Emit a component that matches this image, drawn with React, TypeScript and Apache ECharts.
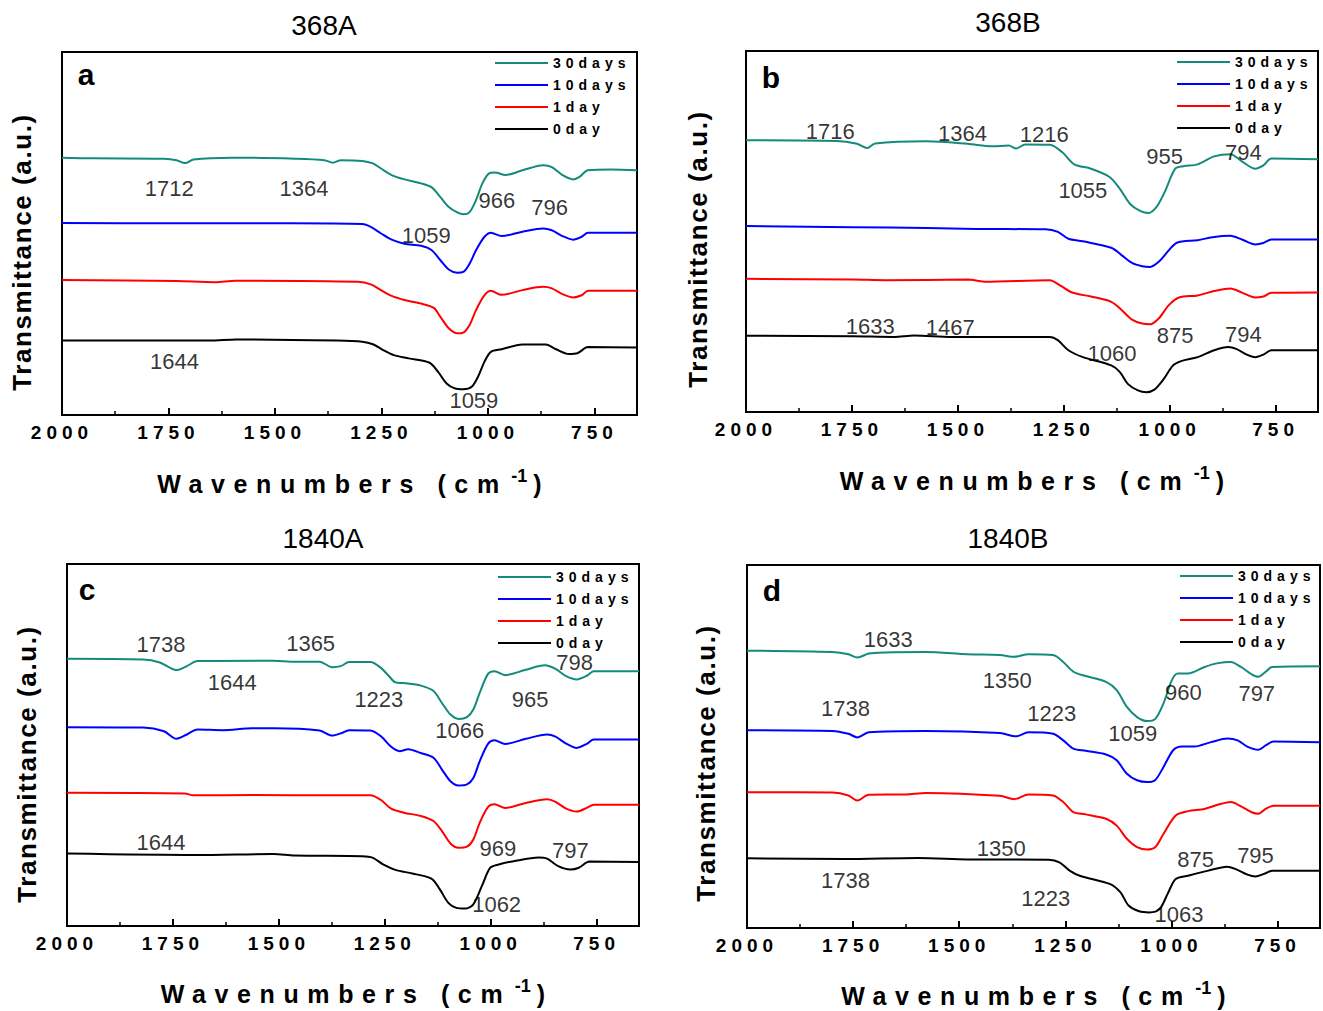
import React, { useEffect, useRef } from 'react';
import * as echarts from 'echarts';

// ---------- data ----------
const SERIES_NAMES = ['30days', '10days', '1day', '0day'];
const SERIES_COLORS = ['#138a7c', '#0000ff', '#ff0000', '#000000'];
const MAJOR_TICKS = [2000, 1750, 1500, 1250, 1000, 750];
const MINOR_TICKS = [1875, 1625, 1375, 1125, 875];
const PANEL_TITLES = ['368A', '368B', '1840A', '1840B'];
const PANEL_LETTERS = ['a', 'b', 'c', 'd'];
const X_NAME = 'Wavenumbers (cm';
const X_NAME_SUP = '-1';
const Y_NAME = 'Transmittance (a.u.)';

// 368A
const a30 = [[2000,70.9],[1929,70.7],[1760,70.6],[1731,70.2],[1711,69.4],[1691,70.4],[1602,70.9],[1454,70.6],[1384,70.2],[1364,69.5],[1345,70.2],[1295,70.0],[1270,69.3],[1251,67.9],[1226,66.1],[1196,64.9],[1157,63.8],[1132,62.7],[1112,60.1],[1092,57.3],[1072,55.8],[1058,55.3],[1043,55.9],[1028,59.2],[1013,63.8],[998,66.5],[983,66.8],[959,66.1],[919,67.4],[870,68.8],[850,68.3],[825,66.1],[800,64.9],[785,65.6],[765,67.4],[711,67.6],[650,67.4]];
const a10 = [[2000,52.9],[1751,52.8],[1464,52.8],[1295,52.6],[1275,51.8],[1251,50.0],[1226,48.3],[1196,47.2],[1157,46.6],[1132,45.4],[1112,42.7],[1092,40.1],[1072,39.2],[1058,39.4],[1043,41.7],[1028,45.4],[1008,49.1],[993,50.2],[968,49.3],[919,50.5],[870,51.4],[850,50.9],[825,49.3],[800,48.3],[780,49.1],[765,50.2],[650,50.2]];
const a1 = [[2000,37.2],[1731,36.9],[1642,36.6],[1592,37.0],[1305,36.7],[1275,36.0],[1251,34.4],[1226,32.8],[1196,31.7],[1157,30.7],[1127,29.5],[1112,27.1],[1092,23.9],[1072,22.5],[1058,22.7],[1043,24.8],[1028,28.9],[1008,33.0],[993,34.2],[968,33.1],[919,34.4],[870,35.3],[850,34.9],[825,33.3],[800,32.4],[780,33.0],[765,34.2],[650,34.2]];
const a0 = [[2000,20.5],[1652,20.5],[1592,20.8],[1355,20.5],[1295,20.2],[1270,19.5],[1246,17.9],[1221,16.5],[1186,15.6],[1137,14.4],[1117,11.9],[1097,8.7],[1077,7.3],[1058,7.1],[1038,7.8],[1023,10.6],[1008,14.7],[993,17.4],[968,18.1],[919,19.4],[864,19.4],[840,18.1],[810,16.8],[790,17.0],[765,18.7],[650,18.6]];
const annA = [
  { t: '1712', x: 1748, y: 62.4 }, { t: '1364', x: 1432, y: 62.4 }, { t: '966', x: 979, y: 59.2 },
  { t: '796', x: 855, y: 57.3 }, { t: '1059', x: 1145, y: 49.4 }, { t: '1644', x: 1736, y: 14.7 },
  { t: '1059', x: 1033, y: 4.1 },
];

// 368B
const b30 = [[2000,75.3],[1787,75.1],[1738,74.3],[1714,73.1],[1695,74.4],[1574,75.0],[1477,74.3],[1419,73.6],[1380,73.8],[1362,73.0],[1341,74.1],[1283,74.0],[1254,72.0],[1225,68.6],[1186,67.4],[1142,65.1],[1118,61.9],[1094,57.7],[1070,55.7],[1050,55.1],[1031,56.8],[1012,60.9],[987,67.4],[968,68.1],[934,68.6],[895,70.8],[857,71.4],[828,69.3],[798,67.4],[779,68.3],[760,70.2],[650,70.0]];
const b10 = [[2000,51.5],[1748,51.2],[1574,51.0],[1457,50.7],[1293,50.6],[1264,49.9],[1239,48.0],[1205,47.3],[1138,45.5],[1113,43.4],[1089,41.3],[1065,40.4],[1046,40.2],[1026,41.6],[1002,44.8],[983,46.9],[934,47.6],[895,48.5],[857,48.8],[828,47.7],[798,46.4],[779,46.8],[760,47.8],[650,47.8]];
const b1 = [[2000,36.9],[1748,36.7],[1671,36.5],[1477,36.7],[1438,36.1],[1283,36.5],[1259,35.1],[1230,33.1],[1186,32.0],[1138,30.5],[1113,28.2],[1089,25.6],[1065,24.5],[1046,24.3],[1026,25.9],[1002,29.6],[978,31.7],[934,32.3],[895,33.5],[857,34.2],[828,33.0],[798,31.7],[779,32.0],[760,33.0],[650,33.1]];
const b0 = [[2000,21.1],[1748,21.0],[1651,20.8],[1603,21.2],[1515,20.8],[1283,20.8],[1264,19.9],[1239,17.1],[1205,15.2],[1138,12.9],[1118,11.1],[1099,7.8],[1075,6.0],[1055,5.5],[1036,6.2],[1016,8.8],[992,12.9],[973,14.1],[934,15.2],[895,17.1],[862,18.0],[843,17.5],[818,15.9],[798,15.2],[779,15.9],[760,17.1],[650,17.1]];
const annB = [
  { t: '1716', x: 1801, y: 77.6 }, { t: '1364', x: 1489, y: 77.1 }, { t: '1216', x: 1296, y: 76.8 },
  { t: '955', x: 1012, y: 70.8 }, { t: '794', x: 826, y: 72.0 }, { t: '1055', x: 1205, y: 61.4 },
  { t: '1633', x: 1707, y: 23.8 }, { t: '1467', x: 1518, y: 23.5 }, { t: '875', x: 987, y: 21.2 },
  { t: '794', x: 826, y: 21.5 }, { t: '1060', x: 1136, y: 16.2 },
];

// 1840A
const c30 = [[2000,73.8],[1821,73.6],[1781,72.8],[1742,70.7],[1717,71.8],[1692,73.2],[1513,73.3],[1463,73.0],[1404,73.0],[1374,71.5],[1354,71.8],[1334,72.9],[1284,72.9],[1259,71.3],[1240,69.0],[1225,67.3],[1205,67.1],[1165,66.4],[1135,64.9],[1115,61.6],[1095,58.4],[1076,57.2],[1056,57.7],[1041,59.8],[1026,64.4],[1006,69.7],[991,70.4],[966,69.3],[917,70.8],[872,72.0],[847,71.0],[822,69.0],[797,68.1],[772,69.2],[757,70.4],[650,70.4]];
const c10 = [[2000,54.9],[1821,54.8],[1771,53.8],[1742,51.7],[1717,52.9],[1692,54.3],[1632,54.1],[1563,54.6],[1513,54.6],[1404,54.0],[1374,52.6],[1354,53.2],[1334,54.1],[1284,54.0],[1259,52.4],[1235,49.5],[1215,48.3],[1195,48.8],[1165,47.8],[1135,46.5],[1115,43.2],[1095,40.0],[1076,38.8],[1056,39.1],[1041,40.9],[1026,45.5],[1006,50.4],[991,51.3],[966,50.3],[917,51.7],[867,52.9],[847,52.3],[822,50.4],[797,49.2],[772,50.4],[757,51.5],[650,51.5]];
const c1 = [[2000,36.8],[1722,36.6],[1702,36.1],[1563,36.2],[1374,36.1],[1284,36.1],[1259,34.8],[1235,32.4],[1205,31.3],[1165,30.4],[1135,29.0],[1115,26.2],[1095,22.8],[1076,21.6],[1056,21.9],[1041,23.9],[1026,28.5],[1006,32.9],[991,33.6],[966,32.6],[917,34.0],[867,35.0],[847,34.3],[822,32.4],[797,31.6],[772,32.7],[757,33.5],[650,33.5]];
const c0 = [[2000,20.0],[1692,19.6],[1513,19.9],[1463,19.5],[1304,19.3],[1279,18.9],[1254,17.0],[1225,15.5],[1185,14.5],[1140,13.1],[1120,10.1],[1100,6.4],[1081,5.0],[1061,4.8],[1041,6.0],[1021,11.0],[1001,16.1],[981,17.0],[946,17.9],[887,18.9],[867,18.6],[842,16.6],[812,15.6],[792,16.1],[767,17.8],[650,17.7]];
const annC = [
  { t: '1738', x: 1778, y: 77.7 }, { t: '1365', x: 1425, y: 78.0 }, { t: '798', x: 802, y: 72.8 },
  { t: '1644', x: 1610, y: 67.4 }, { t: '1223', x: 1264, y: 62.6 }, { t: '965', x: 907, y: 62.6 },
  { t: '1066', x: 1073, y: 54.0 }, { t: '1644', x: 1778, y: 23.2 }, { t: '969', x: 983, y: 21.4 },
  { t: '797', x: 812, y: 20.9 }, { t: '1062', x: 986, y: 6.0 },
];

// 1840B
const d30 = [[2000,76.4],[1799,76.0],[1761,75.4],[1740,74.5],[1713,75.6],[1674,75.9],[1578,76.0],[1481,75.4],[1404,75.2],[1370,74.7],[1337,75.4],[1279,75.2],[1255,73.3],[1231,70.6],[1202,69.4],[1154,67.8],[1129,65.5],[1105,60.9],[1081,58.1],[1057,57.0],[1038,57.6],[1019,61.8],[999,68.3],[985,70.1],[961,70.1],[922,71.9],[893,72.9],[860,73.3],[836,71.9],[811,69.9],[795,69.2],[778,70.6],[763,71.9],[650,72.1]];
const d10 = [[2000,54.5],[1799,54.3],[1761,53.5],[1740,52.5],[1713,53.9],[1578,54.3],[1404,53.7],[1366,52.8],[1337,53.9],[1279,53.5],[1255,51.7],[1231,49.4],[1202,48.8],[1154,47.8],[1129,46.2],[1105,42.5],[1081,40.7],[1057,40.2],[1038,40.8],[1019,44.3],[995,49.1],[975,50.0],[946,50.0],[907,51.2],[868,52.2],[844,51.7],[820,49.9],[795,49.1],[778,50.3],[759,51.4],[650,51.2]];
const d1 = [[2000,37.4],[1799,37.3],[1761,36.5],[1740,35.1],[1713,36.7],[1626,36.8],[1578,37.2],[1404,36.4],[1370,35.5],[1337,36.8],[1279,36.5],[1255,34.7],[1231,31.9],[1202,31.3],[1154,30.1],[1129,28.2],[1105,24.6],[1081,22.3],[1057,21.6],[1038,22.3],[1019,25.9],[990,31.0],[961,32.2],[922,32.8],[889,34.0],[860,34.7],[836,33.5],[811,31.9],[795,31.5],[778,32.8],[759,33.7],[650,33.7]];
const d0 = [[2000,19.2],[1771,19.0],[1597,19.3],[1481,18.9],[1289,18.8],[1264,18.1],[1240,15.8],[1216,14.4],[1144,12.1],[1120,9.8],[1101,6.2],[1076,4.6],[1052,4.3],[1028,5.2],[1009,9.4],[990,13.5],[961,14.4],[913,15.8],[869,16.9],[850,16.3],[821,14.7],[802,14.2],[782,14.9],[763,15.8],[650,15.8]];
const annD = [
  { t: '1633', x: 1667, y: 79.5 }, { t: '1350', x: 1387, y: 68.3 }, { t: '1738', x: 1768, y: 60.4 },
  { t: '1223', x: 1282, y: 59.2 }, { t: '960', x: 972, y: 64.8 }, { t: '797', x: 799, y: 64.6 },
  { t: '1059', x: 1091, y: 53.7 }, { t: '1350', x: 1401, y: 21.8 }, { t: '875', x: 943, y: 19.0 },
  { t: '795', x: 802, y: 20.0 }, { t: '1738', x: 1768, y: 13.1 }, { t: '1223', x: 1296, y: 8.0 },
  { t: '1063', x: 982, y: 3.6 },
];

// ---------- layout ----------
const FS_PLAIN = 'Liberation Sans';
const FS_TICK = 'Liberation Sans, tksp';
const FS_LEG = 'Liberation Sans, lgsp';
const FS_XN = 'Liberation Sans, xnsp';
const FS_YN = 'Liberation Sans, ynsp';
const XN_SPACING = 8.6;
// natural width of the main x-name token at 25px bold + letter spacing
const XN_MAIN_WIDTH = 222 + X_NAME.length * XN_SPACING + 3;

const CSS = `
text[style*="tksp"],text[font-family*="tksp"]{letter-spacing:5px}
text[style*="lgsp"],text[font-family*="lgsp"]{letter-spacing:5px}
text[style*="xnsp"],text[font-family*="xnsp"]{letter-spacing:${XN_SPACING}px}
text[style*="ynsp"],text[font-family*="ynsp"]{letter-spacing:1.6px}
`;

const PANELS = [
  { grid: { left: 62, top: 52, width: 575, height: 363 }, title: { x: 324, y: 11 }, letter: { x: 86, y: 74 },
    legend: { left: 495, top: 56 }, yname: { x: 22, y: 252 }, nameGap: 52, series: [a30, a10, a1, a0], ann: annA },
  { grid: { left: 746, top: 51, width: 572, height: 361 }, title: { x: 1008, y: 8 }, letter: { x: 771, y: 77 },
    legend: { left: 1177, top: 55 }, yname: { x: 698, y: 249 }, nameGap: 52, series: [b30, b10, b1, b0], ann: annB },
  { grid: { left: 67, top: 564, width: 572, height: 362 }, title: { x: 323, y: 524 }, letter: { x: 87, y: 589 },
    legend: { left: 498, top: 570 }, yname: { x: 27, y: 764 }, nameGap: 51, series: [c30, c10, c1, c0], ann: annC },
  { grid: { left: 747, top: 565, width: 573, height: 363 }, title: { x: 1008, y: 524 }, letter: { x: 772, y: 590 },
    legend: { left: 1180, top: 569 }, yname: { x: 706, y: 763 }, nameGap: 51, series: [d30, d10, d1, d0], ann: annD },
];

function buildOption() {
  const option: any = {
    animation: false,
    backgroundColor: '#ffffff',
    title: [], grid: [], xAxis: [], yAxis: [], legend: [], series: [], graphic: [],
  };
  PANELS.forEach((p, k) => {
    option.title.push({
      text: PANEL_TITLES[k], left: p.title.x, top: p.title.y, textAlign: 'center', padding: 0,
      textStyle: { fontSize: 28, fontWeight: 'normal', fontFamily: FS_PLAIN, color: '#000' },
    });
    option.grid.push({
      ...p.grid, show: true, borderColor: '#000', borderWidth: 2, backgroundColor: 'transparent',
    });
    option.xAxis.push({
      type: 'value', gridIndex: k, min: 650, max: 2000, inverse: true, position: 'bottom',
      name: `{m|${X_NAME}}{s|${X_NAME_SUP}}{p|)}`,
      nameLocation: 'middle', nameGap: p.nameGap,
      nameTextStyle: {
        rich: {
          m: { fontSize: 25, fontWeight: 'bold', fontFamily: FS_XN, color: '#000', lineHeight: 34, width: XN_MAIN_WIDTH, align: 'left' },
          s: { fontSize: 18, fontWeight: 'bold', fontFamily: FS_PLAIN, color: '#000', verticalAlign: 'top', lineHeight: 18, width: 22, align: 'left' },
          p: { fontSize: 25, fontWeight: 'bold', fontFamily: FS_PLAIN, color: '#000', lineHeight: 34, align: 'left' },
        },
      },
      splitLine: { show: false },
      axisLine: { show: true, lineStyle: { color: '#000', width: 2 } },
      axisTick: { show: true, inside: true, length: 7, lineStyle: { color: '#000', width: 2 }, customValues: MAJOR_TICKS },
      axisLabel: {
        show: true, customValues: MAJOR_TICKS, margin: 8, fontSize: 19, fontWeight: 'bold', fontFamily: FS_TICK, color: '#000',
        formatter: (v: number) => String(v),
      },
    });
    option.xAxis.push({
      type: 'value', gridIndex: k, min: 650, max: 2000, inverse: true, position: 'bottom',
      axisLine: { show: false }, axisLabel: { show: false }, splitLine: { show: false },
      axisTick: { show: true, inside: true, length: 4, lineStyle: { color: '#000', width: 1.5 }, customValues: MINOR_TICKS },
    });
    option.yAxis.push({ type: 'value', gridIndex: k, min: 0, max: 100, show: false });
    option.legend.push({
      orient: 'vertical', left: p.legend.left, top: p.legend.top, padding: 0,
      icon: 'rect', itemWidth: 53, itemHeight: 2, itemGap: 8, selectedMode: false,
      data: SERIES_NAMES,
      textStyle: { fontSize: 14, fontWeight: 'bold', fontFamily: FS_LEG, color: '#000' },
    });
    p.series.forEach((d, i) => {
      option.series.push({
        type: 'line', name: SERIES_NAMES[i], xAxisIndex: 2 * k, yAxisIndex: k, data: d,
        showSymbol: false, symbol: 'none', smooth: 0.3, silent: true,
        lineStyle: { color: SERIES_COLORS[i], width: 2 }, itemStyle: { color: SERIES_COLORS[i] },
        emphasis: { disabled: true }, z: 3,
      });
    });
    option.series.push({
      type: 'scatter', name: 'peaks-' + PANEL_LETTERS[k], xAxisIndex: 2 * k, yAxisIndex: k,
      data: p.ann.map((a) => ({ name: a.t, value: [a.x, a.y] })),
      symbolSize: 1, itemStyle: { color: 'rgba(0,0,0,0)' }, silent: true, z: 4,
      label: { show: true, position: 'inside', formatter: '{b}', fontSize: 22, fontFamily: FS_PLAIN, color: '#000' },
      emphasis: { disabled: true },
    });
    option.graphic.push({
      type: 'text', x: p.letter.x, y: p.letter.y, silent: true,
      style: { text: PANEL_LETTERS[k], fontSize: 30, fontWeight: 'bold', fontFamily: FS_PLAIN, fill: '#000', align: 'center', verticalAlign: 'middle' },
    });
    option.graphic.push({
      type: 'text', x: p.yname.x, y: p.yname.y, rotation: Math.PI / 2, silent: true,
      style: { text: Y_NAME, fontSize: 26, fontWeight: 'bold', fontFamily: FS_YN, fill: '#000', align: 'center', verticalAlign: 'middle' },
    });
  });
  return option;
}

export default function App() {
  const ref = useRef<HTMLDivElement>(null);
  useEffect(() => {
    const chart = echarts.init(ref.current!, null, { renderer: 'svg', width: 1323, height: 1011 });
    chart.setOption(buildOption());
    return () => chart.dispose();
  }, []);
  return (
    <>
      <style>{CSS}</style>
      <div ref={ref} style={{ position: 'absolute', left: 0, top: 0, width: 1323, height: 1011, background: '#fff' }} />
    </>
  );
}
